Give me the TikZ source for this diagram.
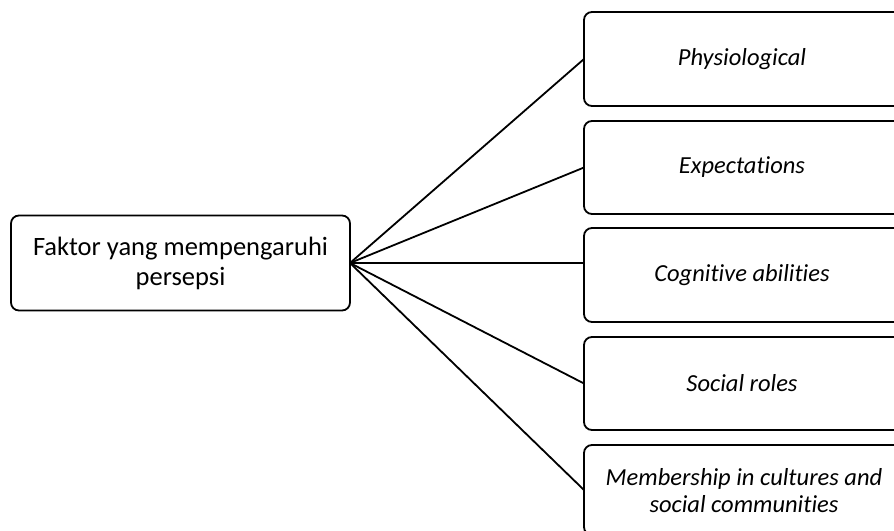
\documentclass[tikz,border=0pt]{standalone}
\usepackage{fontspec}
\setmainfont{Carlito}[Ligatures={NoCommon}]
\begin{document}
\begin{tikzpicture}[x=1pt,y=-1pt,
  box/.style={draw=black,line width=1.8pt,rounded corners=8pt,inner sep=0pt,outer sep=0pt},
  lbl/.style={align=center,font=\fontsize{24.5}{27}\selectfont\itshape},
  conn/.style={line width=1.8pt}]
\useasboundingbox (0,0) rectangle (894,530);
\node[box,minimum width=339pt,minimum height=95pt,align=center,font=\fontsize{26.5}{30}\selectfont] (src) at (180.5,263) {Faktor yang mempengaruhi\\persepsi};
\node[box,minimum width=320pt,minimum height=94pt] (b1) at (744,59) {};
\node[box,minimum width=320pt,minimum height=93pt] (b2) at (744,167.5) {};
\node[box,minimum width=320pt,minimum height=94pt] (b3) at (744,275) {};
\node[box,minimum width=320pt,minimum height=93pt] (b4) at (744,383.5) {};
\node[box,minimum width=320pt,minimum height=90pt] (b5) at (744,490) {};
\node[lbl] (t1) at (742,59) {Physiological};
\node[lbl] (t2) at (742,167.5) {Expectations};
\node[lbl] (t3) at (742,275) {Cognitive abilities};
\node[lbl] (t4) at (742,383.5) {Social roles};
\node[lbl] (t5) at (744,491) {Membership in cultures and\\social communities};
\draw[conn] (src.east) -- (b1.west);
\draw[conn] (src.east) -- (b2.west);
\draw[conn] (src.east) -- (src.east -| b3.west);
\draw[conn] (src.east) -- (b4.west);
\draw[conn] (src.east) -- (b5.west);
\end{tikzpicture}
\end{document}
